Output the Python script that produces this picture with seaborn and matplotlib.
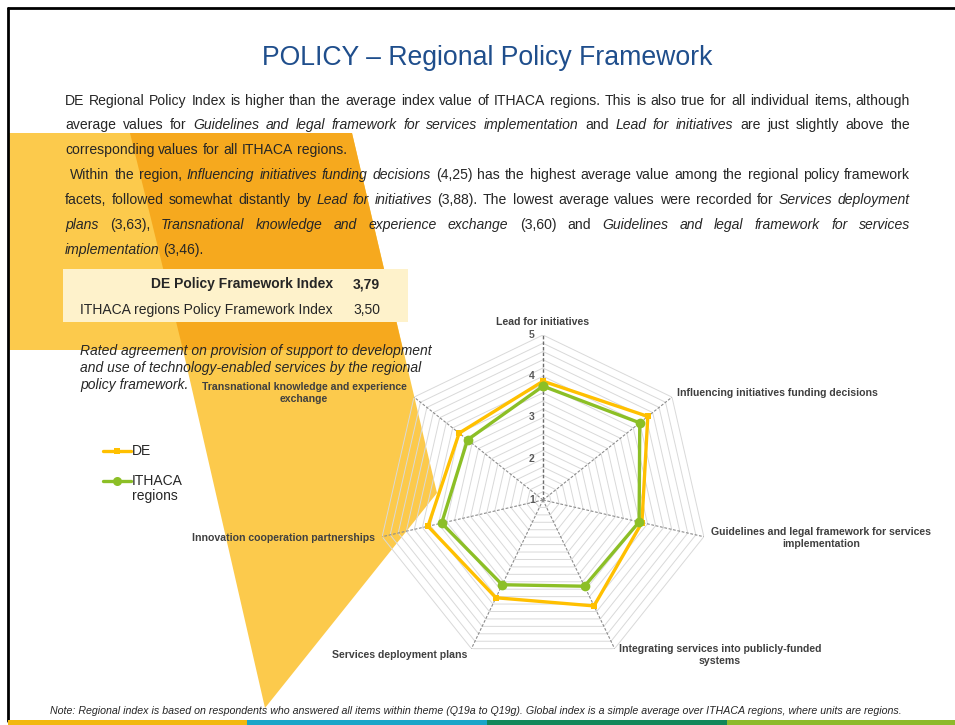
import numpy as np
import pandas as pd
import matplotlib.pyplot as plt
import seaborn as sns
from matplotlib.patches import Polygon, Rectangle

categories = ["Lead for initiatives",
              "Influencing initiatives funding decisions",
              "Guidelines and legal framework for services\nimplementation",
              "Integrating services into publicly-funded\nsystems",
              "Services deployment plans",
              "Innovation cooperation partnerships",
              "Transnational knowledge and experience\nexchange"]
de_values = [3.88, 4.25, 3.46, 3.85, 3.63, 3.86, 3.60]
ithaca_values = [3.76, 4.00, 3.39, 3.32, 3.28, 3.52, 3.34]
series_names = ["DE", "ITHACA regions"]
r_ticks = [1, 2, 3, 4, 5]

index_labels = ["DE Policy Framework Index", "ITHACA regions Policy Framework Index"]
index_values = ["3,79", "3,50"]

title = "POLICY \u2013 Regional Policy Framework"
caption = ["Rated agreement on provision of support to development",
           "and use of technology-enabled services by the regional",
           "policy framework."]
note = ("Note: Regional index is based on respondents who answered all items within theme "
        "(Q19a to Q19g). Global index is a simple average over ITHACA regions, where units are regions.")

# paragraph lines: (segments, justified); segment = (text, italic)
body = [
    ([("DE Regional Policy Index is higher than the average index value of ITHACA regions. "
       "This is also true for all individual items, although", False)], True),
    ([("average values for", False),
      ("Guidelines and legal framework for services implementation", True),
      ("and", False), ("Lead for initiatives", True), ("are just slightly above the", False)], True),
    ([("corresponding values for all ITHACA regions.", False)], False),
    ([("Within the region,", False), ("Influencing initiatives funding decisions", True),
      ("(4,25) has the highest average value among the regional policy framework", False)], True),
    ([("facets, followed somewhat distantly by", False), ("Lead for initiatives", True),
      ("(3,88). The lowest average values were recorded for", False),
      ("Services deployment", True)], True),
    ([("plans", True), ("(3,63),", False), ("Transnational knowledge and experience exchange", True),
      ("(3,60) and", False), ("Guidelines and legal framework for services", True)], True),
    ([("implementation", True), ("(3,46).", False)], False),
]

sns.set_style("white")
plt.rcParams['font.family'] = ['Liberation Sans', 'DejaVu Sans']

W, H = 955, 725
fig = plt.figure(figsize=(W / 100, H / 100), dpi=100)
fig.patch.set_facecolor('white')
bg = fig.add_axes([0, 0, 1, 1])
bg.set_xlim(0, W)
bg.set_ylim(H, 0)
bg.axis('off')
renderer = fig.canvas.get_renderer()

# decorative slide shapes
light = '#FCCA4C'
dark = '#F6A91E'
bg.add_patch(Polygon([(8, 133), (352, 133), (437, 493), (265, 708), (183, 350), (8, 350)],
                     closed=True, facecolor=light, edgecolor='none', zorder=0))
bg.add_patch(Polygon([(130, 133), (352, 133), (403, 350), (183, 350)],
                     closed=True, facecolor=dark, edgecolor='none', zorder=0))

# frame and footer stripes
bg.plot([8, 8], [8, 721], color='black', lw=2, zorder=5)
bg.plot([8, W], [8, 8], color='black', lw=2, zorder=5)
for x0, x1, c in [(8, 247, '#F2B80F'), (247, 487, '#1AA5C8'),
                  (487, 727, '#12875A'), (727, W, '#8DBA2B')]:
    bg.add_patch(Rectangle((x0, 720), x1 - x0, 6, facecolor=c, edgecolor='none', zorder=5))

txt_col = '#262626'
bg.text(487, 58, title, fontsize=19.2, color='#1F4E8C', ha='center', va='center')

# justified paragraph
FS = 10.1


def text_width(s, **kw):
    t = bg.text(0, 0, s, fontsize=FS, **kw)
    w = t.get_window_extent(renderer).width
    t.remove()
    return w


space_w = text_width("x x") - text_width("xx")
for i, (segs, justify) in enumerate(body):
    y = 104.5 + 24.9 * i
    x0 = 70 if i == 3 else 65
    x1 = 910
    words = [(w, it) for s, it in segs for w in s.split()]
    widths = [text_width(w, fontstyle='italic' if it else 'normal') for w, it in words]
    gap = (x1 - x0 - sum(widths)) / (len(words) - 1) if justify else space_w
    x = x0
    for (w, it), wd in zip(words, widths):
        bg.text(x, y, w, fontsize=FS, fontstyle='italic' if it else 'normal',
                color=txt_col, ha='left', va='baseline', zorder=3)
        x += wd + gap

# index table
bg.add_patch(Rectangle((63, 269), 345, 53, facecolor='#FEF2CB', edgecolor='none', zorder=1))
for lab, val, y, wt in zip(index_labels, index_values, [288, 314], ['bold', 'normal']):
    bg.text(333, y, lab, fontsize=10, fontweight=wt, color=txt_col, ha='right', va='baseline', zorder=3)
    bg.text(353, y, val, fontsize=10, fontweight=wt, color=txt_col, ha='left', va='baseline', zorder=3)

for j, line in enumerate(caption):
    bg.text(80, 355 + 17 * j, line, fontsize=10, fontstyle='italic', color=txt_col,
            ha='left', va='baseline', zorder=3)

bg.text(476, 711, note, fontsize=7.7, fontstyle='italic', color=txt_col,
        ha='center', va='center', zorder=3)

# radar chart
de_col = '#FFC000'
it_col = '#8CBF26'
cx, cy, R = 543, 500, 165
ax = fig.add_axes([(cx - R) / W, (H - cy - R) / H, 2 * R / W, 2 * R / H], projection='polar')
ax.set_zorder(4)
ax.patch.set_alpha(0)
ax.set_theta_zero_location('N')
ax.set_theta_direction(-1)
ax.grid(False)
ax.spines['polar'].set_visible(False)

angles = np.linspace(0, 2 * np.pi, len(categories), endpoint=False)
closed = np.append(angles, 2 * np.pi)

for lv in np.arange(1.2, 5.01, 0.2):
    ax.plot(closed, [lv] * len(closed), color='#D9D9D9', lw=0.7, zorder=1)
for k, a in enumerate(angles):
    ax.plot([a, a], [1, 5], color='#6E6E6E' if k == 0 else '#8C8C8C',
            lw=1.0 if k == 0 else 0.8, ls=(0, (2.5, 1.5)), zorder=2)

df = pd.DataFrame({
    'angle': np.concatenate([closed, closed]),
    'value': de_values + de_values[:1] + ithaca_values + ithaca_values[:1],
    'series': [series_names[0]] * len(closed) + [series_names[1]] * len(closed),
})
n_before = len(ax.lines)
sns.lineplot(data=df, x='angle', y='value', hue='series', style='series',
             palette={series_names[0]: de_col, series_names[1]: it_col},
             markers={series_names[0]: 's', series_names[1]: 'o'}, dashes=False,
             sort=False, estimator=None, lw=2.4, markersize=6, markeredgewidth=0,
             legend=False, ax=ax, zorder=3)
# squares a bit smaller than the circles, as in the original
for ln in ax.lines[n_before:]:
    ln.set_markersize(5 if ln.get_marker() == 's' else 7)
ax.set_ylim(1, 5)
ax.set_xticks([])
ax.set_yticks([])
ax.set_xlabel('')
ax.set_ylabel('')

for v in r_ticks:
    ax.annotate(str(v), (0, v), xytext=(-6, 0), textcoords='offset points',
                ha='right', va='center', fontsize=7.5, fontweight='bold', color='#595959')

label_pos = [(543, 322, 'center'), (677, 393, 'left'), (821, 538, 'center'),
             (720, 655, 'center'), (467, 655, 'right'), (375, 538, 'right'),
             (304, 393, 'center')]
for lab, (x, y, ha) in zip(categories, label_pos):
    bg.text(x, y, lab, fontsize=7.6, fontweight='bold', color='#404040', ha=ha, va='center',
            multialignment='center', linespacing=1.3, zorder=3)

# legend
for name, col, mk, y in [(series_names[0], de_col, 's', 451), (series_names[1], it_col, 'o', 481)]:
    bg.plot([103, 117, 131], [y, y, y], color=col, lw=2.4, marker=mk, markevery=[1],
            markersize=5 if mk == 's' else 6.5, markeredgewidth=0, zorder=3)
bg.text(132, 451, "DE", fontsize=10, color=txt_col, ha='left', va='center', zorder=3)
bg.text(132, 481, "ITHACA", fontsize=10, color=txt_col, ha='left', va='center', zorder=3)
bg.text(132, 496, "regions", fontsize=10, color=txt_col, ha='left', va='center', zorder=3)

fig.savefig('out.png', dpi=100)
